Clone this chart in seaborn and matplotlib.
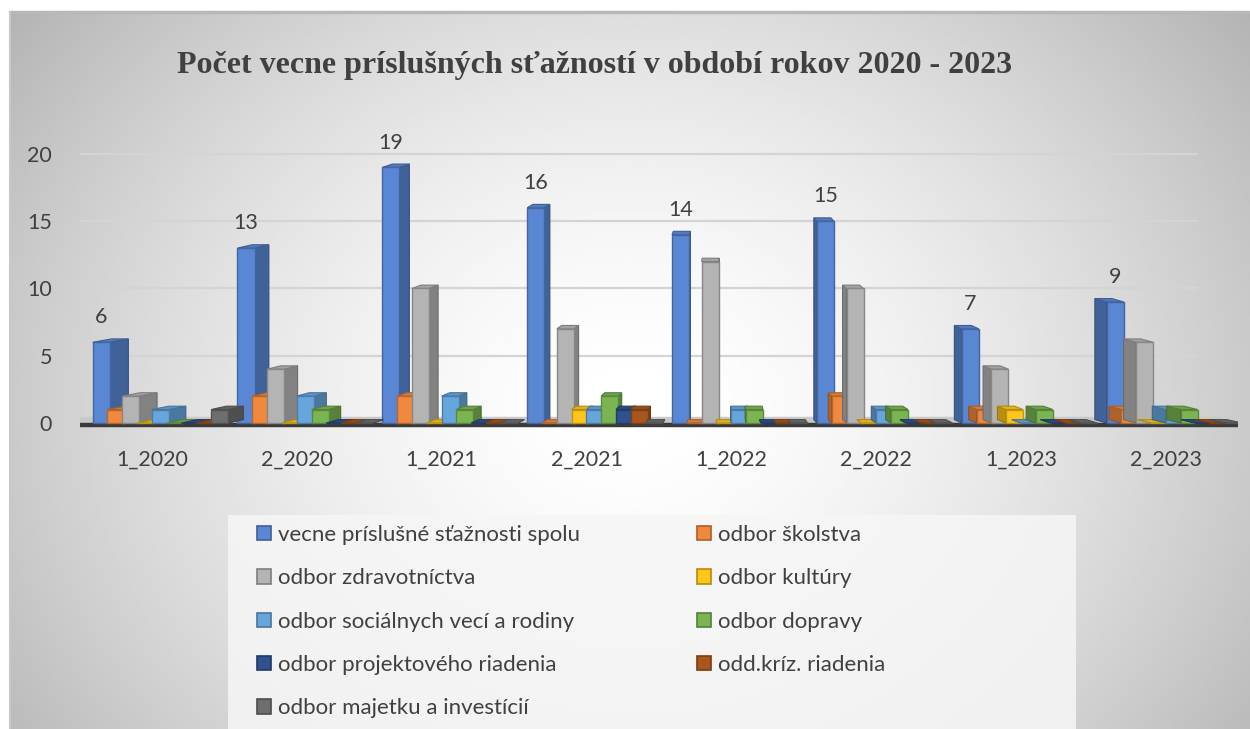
import numpy as np
import pandas as pd
import matplotlib
matplotlib.use('Agg')
import matplotlib.pyplot as plt
from matplotlib.patches import Polygon, Rectangle, Patch
from matplotlib import colors as mcolors
import seaborn as sns

periods = ['1_2020', '2_2020', '1_2021', '2_2021', '1_2022', '2_2022', '1_2023', '2_2023']
series = ['vecne príslušné sťažnosti spolu', 'odbor školstva', 'odbor zdravotníctva',
          'odbor kultúry', 'odbor sociálnych vecí a rodiny', 'odbor dopravy',
          'odbor projektového riadenia', 'odd.kríz. riadenia', 'odbor majetku a investícií']

spolu = [6, 13, 19, 16, 14, 15, 7, 9]
skolstvo = [1, 2, 2, 0, 0, 2, 1, 1]
zdravotnictvo = [2, 4, 10, 7, 12, 10, 4, 6]
kultura = [0, 0, 0, 1, 0, 0, 1, 0]
socialne = [1, 2, 2, 1, 1, 1, 0, 1]
doprava = [0, 1, 1, 2, 1, 1, 1, 1]
projekty = [0, 0, 0, 1, 0, 0, 0, 0]
krizove = [0, 0, 0, 1, 0, 0, 0, 0]
majetok = [1, 0, 0, 0, 0, 0, 0, 0]

values = [spolu, skolstvo, zdravotnictvo, kultura, socialne, doprava, projekty, krizove, majetok]
colors = ['#5a87d4', '#f0893e', '#b4b4b4', '#ffc61a', '#67a6dd', '#7ab552', '#2f5190', '#a8561c', '#6e6e6e']

df = pd.DataFrame({
    'obdobie': np.tile(periods, len(series)),
    'odbor': np.repeat(series, len(periods)),
    'pocet': np.concatenate(values),
})

sns.set_theme(style='white')
plt.rcParams['font.family'] = ['Lato', 'DejaVu Sans']
txt = '#404040'


def darker(c, f):
    r, g, b = mcolors.to_rgb(c)
    return (r * f, g * f, b * f)


fig = plt.figure(figsize=(12.5, 7.29), dpi=100)
fig.patch.set_facecolor('white')

# background panel with soft radial gradient
bg = fig.add_axes([10 / 1250, 0, 1240 / 1250, 717 / 729], zorder=0)
gx, gy = np.meshgrid(np.linspace(0, 1, 400), np.linspace(0, 1, 300))
r = np.sqrt(((gx - 0.5) / 0.55) ** 2 + ((gy - 0.45) / 0.8) ** 2)
grad = 1 - 0.24 * np.clip(r, 0, 1.3) ** 1.6
bg.imshow(grad, cmap='gray', vmin=0, vmax=1, aspect='auto', extent=[0, 1, 0, 1], origin='lower')
bg.plot([0, 1], [1, 1], color='#b8b8b8', lw=2.5, transform=bg.transAxes, clip_on=False)
bg.plot([0, 0], [0, 1], color='#c8c8c8', lw=1.5, transform=bg.transAxes, clip_on=False)
bg.axis('off')

ax = fig.add_axes([79.6 / 1250, (729 - 427.7) / 729, 1158.8 / 1250, 287.2 / 729], zorder=1)
ax.set_facecolor('none')

sns.barplot(data=df, x='obdobie', y='pocet', hue='odbor', hue_order=series, order=periods,
            palette=colors, width=0.92, legend=False, ax=ax, zorder=3, linewidth=1)

ax.set_ylim(-0.35, 21)
ax.set_xlim(-0.5, 7.5)
ax.set_yticks([0, 5, 10, 15, 20])
ax.grid(False)
for yv in ax.get_yticks()[1:]:
    ax.hlines(yv, -0.5, 7.22, color='#d4d4d4', lw=1.6, zorder=0.5)
for s in ax.spines.values():
    s.set_visible(False)
ax.tick_params(axis='y', length=0, pad=20, labelsize=15.5, labelcolor=txt)
ax.tick_params(axis='x', length=0, pad=16, labelsize=15.5, labelcolor=txt)
ax.set_xlabel('')
ax.set_ylabel('')

# floor
ax.axhspan(0, 0.42, xmin=0.0, xmax=0.985, color='#c9c9c9', zorder=1.5)
ax.axhline(-0.18, xmin=0.0, xmax=1.0, color='#3a3a3a', lw=3.2, zorder=1.6)

# pseudo 3D faces
dy = 0.25
for k, cont in enumerate(ax.containers):
    c = colors[k]
    for bar in cont:
        x, w, h = bar.get_x(), bar.get_width(), bar.get_height()
        w2 = w * 1.15
        x = x + 0.05
        bar.set_x(x)
        bar.set_width(w2)
        xc = x + w2 / 2
        d = 0.03 * (3.95 - xc)
        z = 3 + k * 0.1
        bar.set_zorder(z)
        bar.set_facecolor(c)
        bar.set_edgecolor(darker(c, 0.75))
        xs = x + w2 if d >= 0 else x
        side = Polygon([(xs, 0), (xs + d, dy), (xs + d, h + dy), (xs, h)],
                       facecolor=darker(c, 0.72), edgecolor=darker(c, 0.6), lw=0.8, zorder=z - 0.01)
        top = Polygon([(x, h), (x + w2, h), (x + w2 + d, h + dy), (x + d, h + dy)],
                      facecolor=darker(c, 0.9), edgecolor=darker(c, 0.7), lw=0.8, zorder=z - 0.005)
        ax.add_patch(side)
        ax.add_patch(top)

# data labels for total
for bar in ax.containers[0]:
    h = bar.get_height()
    ax.text(bar.get_x() + bar.get_width() / 2, h + 1.85, f'{int(h)}',
            ha='center', va='center', fontsize=15.5, color=txt, zorder=10)

fig.text(595 / 1250, 1 - 65 / 729, 'Počet vecne príslušných sťažností v období rokov 2020 - 2023',
         ha='center', va='center', fontsize=23, fontweight='bold', color='#404040',
         family=['Liberation Serif', 'DejaVu Serif'])

# legend
fig.patches.append(Rectangle((228 / 1250, 0), 848 / 1250, 214 / 729, transform=fig.transFigure,
                             facecolor='#f6f6f6', alpha=0.85, edgecolor='none', zorder=0.5))
order = [0, 2, 4, 6, 8, 1, 3, 5, 7]
handles = [Patch(facecolor=colors[i], edgecolor=darker(colors[i], 0.7), lw=1.2) for i in order]
labels = [series[i] for i in order]
leg = fig.legend(handles, labels, ncol=2, loc='upper left',
                 bbox_to_anchor=(257 / 1250, 1 - 525 / 729), frameon=False,
                 fontsize=16, handlelength=0.63, handleheight=0.63, handletextpad=0.3,
                 labelspacing=1.05, columnspacing=5.3, borderpad=0, borderaxespad=0)
for t in leg.get_texts():
    t.set_color(txt)
leg.set_zorder(5)

fig.savefig('out.png', dpi=100)
